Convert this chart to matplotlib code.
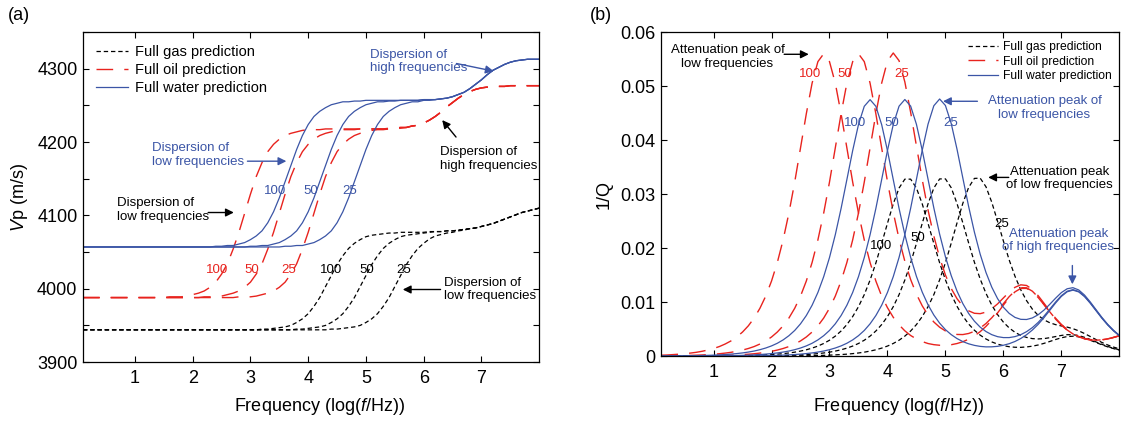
# curvas de dispersion de velocidad (a) y atenuacion 1/Q (b) para gas, petroleo y agua
import numpy as np
import matplotlib
matplotlib.use('Agg')
import matplotlib.pyplot as plt
from matplotlib.ticker import MultipleLocator, FuncFormatter

plt.rcParams['font.family'] = ['Liberation Sans', 'DejaVu Sans']
plt.rcParams['mathtext.fontset'] = 'custom'
plt.rcParams['mathtext.rm'] = 'Liberation Sans'
plt.rcParams['mathtext.it'] = 'Liberation Sans:italic'

# eje x comun: log(f/Hz) de 0.1 a 8.0 cada 0.1
log_f = np.round(np.arange(1, 81) / 10, 1)

## (a) velocidad Vp (m/s), curvas para 100, 50 y 25
vp_gas_100 = [3944, 3944, 3944, 3944, 3944, 3944, 3944, 3944, 3944, 3944,
              3944, 3944, 3944, 3944, 3944, 3944, 3944, 3944, 3944, 3944,
              3944, 3944, 3944, 3944, 3944, 3944, 3944, 3944, 3944, 3944,
              3944, 3945, 3945, 3946, 3947, 3948, 3950, 3954, 3959, 3966,
              3976, 3988, 4003, 4018, 4033, 4045, 4055, 4062, 4067, 4071,
              4073, 4074, 4075, 4076, 4076, 4077, 4077, 4077, 4077, 4077,
              4078, 4078, 4078, 4079, 4079, 4080, 4081, 4082, 4083, 4085,
              4087, 4089, 4092, 4095, 4098, 4101, 4104, 4106, 4108, 4110]
vp_gas_50 = [3944, 3944, 3944, 3944, 3944, 3944, 3944, 3944, 3944, 3944,
             3944, 3944, 3944, 3944, 3944, 3944, 3944, 3944, 3944, 3944,
             3944, 3944, 3944, 3944, 3944, 3944, 3944, 3944, 3944, 3944,
             3944, 3944, 3944, 3944, 3944, 3944, 3944, 3945, 3945, 3946,
             3947, 3948, 3950, 3954, 3959, 3966, 3976, 3988, 4003, 4018,
             4033, 4045, 4055, 4062, 4067, 4071, 4073, 4074, 4075, 4076,
             4077, 4078, 4078, 4079, 4079, 4080, 4081, 4082, 4083, 4085,
             4087, 4089, 4092, 4095, 4098, 4101, 4104, 4106, 4108, 4110]
vp_gas_25 = [3944, 3944, 3944, 3944, 3944, 3944, 3944, 3944, 3944, 3944,
             3944, 3944, 3944, 3944, 3944, 3944, 3944, 3944, 3944, 3944,
             3944, 3944, 3944, 3944, 3944, 3944, 3944, 3944, 3944, 3944,
             3944, 3944, 3944, 3944, 3944, 3944, 3944, 3944, 3944, 3944,
             3944, 3944, 3944, 3945, 3945, 3946, 3947, 3948, 3950, 3954,
             3959, 3966, 3976, 3988, 4003, 4018, 4033, 4045, 4055, 4062,
             4068, 4072, 4074, 4076, 4077, 4079, 4080, 4082, 4083, 4085,
             4087, 4089, 4092, 4095, 4098, 4101, 4104, 4106, 4108, 4110]

vp_oil_100 = [3988, 3988, 3988, 3988, 3988, 3988, 3988, 3988, 3988, 3988,
              3988, 3988, 3988, 3988, 3988, 3989, 3989, 3989, 3990, 3992,
              3994, 3997, 4002, 4009, 4020, 4034, 4054, 4077, 4103, 4129,
              4153, 4172, 4187, 4197, 4204, 4209, 4212, 4214, 4216, 4217,
              4217, 4217, 4218, 4218, 4218, 4218, 4218, 4218, 4218, 4218,
              4218, 4218, 4218, 4219, 4219, 4220, 4220, 4222, 4223, 4226,
              4230, 4235, 4241, 4248, 4254, 4260, 4265, 4269, 4272, 4274,
              4275, 4276, 4276, 4276, 4277, 4277, 4277, 4277, 4277, 4277]
vp_oil_50 = [3988, 3988, 3988, 3988, 3988, 3988, 3988, 3988, 3988, 3988,
             3988, 3988, 3988, 3988, 3988, 3988, 3988, 3988, 3988, 3988,
             3988, 3989, 3989, 3989, 3990, 3992, 3994, 3997, 4002, 4009,
             4020, 4034, 4054, 4077, 4103, 4129, 4153, 4172, 4187, 4197,
             4204, 4209, 4212, 4214, 4216, 4217, 4217, 4217, 4218, 4218,
             4218, 4218, 4218, 4218, 4219, 4220, 4220, 4222, 4223, 4226,
             4230, 4235, 4241, 4248, 4254, 4260, 4265, 4269, 4272, 4274,
             4275, 4276, 4276, 4276, 4277, 4277, 4277, 4277, 4277, 4277]
vp_oil_25 = [3988, 3988, 3988, 3988, 3988, 3988, 3988, 3988, 3988, 3988,
             3988, 3988, 3988, 3988, 3988, 3988, 3988, 3988, 3988, 3988,
             3988, 3988, 3988, 3988, 3988, 3988, 3988, 3989, 3989, 3989,
             3990, 3992, 3994, 3997, 4002, 4009, 4020, 4034, 4054, 4077,
             4103, 4129, 4153, 4172, 4187, 4197, 4204, 4209, 4212, 4214,
             4216, 4217, 4217, 4218, 4218, 4219, 4220, 4222, 4223, 4226,
             4230, 4235, 4241, 4248, 4254, 4260, 4265, 4269, 4272, 4274,
             4275, 4276, 4276, 4276, 4277, 4277, 4277, 4277, 4277, 4277]

vp_water_100 = [4057, 4057, 4057, 4057, 4057, 4057, 4057, 4057, 4057, 4057,
                4057, 4057, 4057, 4057, 4057, 4057, 4057, 4057, 4057, 4057,
                4057, 4057, 4057, 4058, 4058, 4059, 4059, 4061, 4063, 4067,
                4072, 4079, 4090, 4105, 4124, 4146, 4168, 4190, 4209, 4224,
                4235, 4242, 4247, 4251, 4253, 4255, 4255, 4256, 4256, 4257,
                4257, 4257, 4257, 4257, 4257, 4257, 4257, 4257, 4257, 4258,
                4258, 4258, 4259, 4260, 4262, 4265, 4268, 4273, 4279, 4285,
                4292, 4298, 4302, 4306, 4309, 4311, 4312, 4313, 4313, 4313]
vp_water_50 = [4057, 4057, 4057, 4057, 4057, 4057, 4057, 4057, 4057, 4057,
               4057, 4057, 4057, 4057, 4057, 4057, 4057, 4057, 4057, 4057,
               4057, 4057, 4057, 4057, 4057, 4057, 4057, 4057, 4057, 4058,
               4058, 4059, 4059, 4061, 4063, 4067, 4072, 4079, 4090, 4105,
               4124, 4146, 4168, 4190, 4209, 4224, 4235, 4242, 4247, 4251,
               4253, 4255, 4255, 4256, 4256, 4257, 4257, 4257, 4257, 4258,
               4258, 4258, 4259, 4260, 4262, 4265, 4268, 4273, 4279, 4285,
               4292, 4298, 4302, 4306, 4309, 4311, 4312, 4313, 4313, 4313]
vp_water_25 = [4057, 4057, 4057, 4057, 4057, 4057, 4057, 4057, 4057, 4057,
               4057, 4057, 4057, 4057, 4057, 4057, 4057, 4057, 4057, 4057,
               4057, 4057, 4057, 4057, 4057, 4057, 4057, 4057, 4057, 4057,
               4057, 4057, 4057, 4057, 4057, 4058, 4058, 4059, 4059, 4061,
               4063, 4067, 4072, 4079, 4090, 4105, 4124, 4146, 4168, 4190,
               4209, 4224, 4235, 4242, 4247, 4251, 4253, 4255, 4255, 4257,
               4257, 4258, 4259, 4260, 4262, 4265, 4268, 4273, 4279, 4285,
               4292, 4298, 4302, 4306, 4309, 4311, 4312, 4313, 4313, 4313]

## (b) atenuacion 1/Q
q_gas_100 = [0.00001, 0.00001, 0.00001, 0.00001, 0.00001, 0.00001, 0.00001, 0.00002, 0.00002, 0.00003,
             0.00004, 0.00005, 0.00006, 0.00008, 0.00009, 0.00012, 0.00015, 0.00019, 0.00024, 0.00030,
             0.00037, 0.00047, 0.00059, 0.00074, 0.00094, 0.00118, 0.00149, 0.00187, 0.00235, 0.00295,
             0.00371, 0.00466, 0.00585, 0.00733, 0.00916, 0.01139, 0.01409, 0.01725, 0.02087, 0.02460,
             0.02820, 0.03113, 0.03278, 0.03278, 0.03113, 0.02820, 0.02460, 0.02087, 0.01729, 0.01414,
             0.01145, 0.00923, 0.00742, 0.00596, 0.00480, 0.00389, 0.00318, 0.00264, 0.00223, 0.00194,
             0.00175, 0.00165, 0.00163, 0.00171, 0.00185, 0.00207, 0.00237, 0.00272, 0.00308, 0.00340,
             0.00363, 0.00369, 0.00359, 0.00331, 0.00294, 0.00252, 0.00210, 0.00172, 0.00140, 0.00113]
q_gas_50 = [0.00000, 0.00000, 0.00000, 0.00000, 0.00000, 0.00001, 0.00001, 0.00001, 0.00001, 0.00001,
            0.00001, 0.00001, 0.00001, 0.00002, 0.00002, 0.00003, 0.00004, 0.00005, 0.00006, 0.00008,
            0.00009, 0.00012, 0.00015, 0.00019, 0.00024, 0.00030, 0.00037, 0.00047, 0.00059, 0.00074,
            0.00094, 0.00118, 0.00149, 0.00187, 0.00235, 0.00295, 0.00371, 0.00466, 0.00585, 0.00733,
            0.00916, 0.01139, 0.01409, 0.01725, 0.02087, 0.02460, 0.02820, 0.03113, 0.03282, 0.03283,
            0.03119, 0.02827, 0.02469, 0.02098, 0.01739, 0.01427, 0.01162, 0.00945, 0.00769, 0.00630,
            0.00523, 0.00442, 0.00384, 0.00347, 0.00325, 0.00319, 0.00325, 0.00342, 0.00363, 0.00384,
            0.00398, 0.00397, 0.00381, 0.00349, 0.00308, 0.00263, 0.00219, 0.00179, 0.00146, 0.00118]
q_gas_25 = [0.00000, 0.00000, 0.00000, 0.00000, 0.00000, 0.00000, 0.00000, 0.00000, 0.00000, 0.00000,
            0.00000, 0.00000, 0.00000, 0.00000, 0.00000, 0.00000, 0.00000, 0.00001, 0.00001, 0.00002,
            0.00002, 0.00003, 0.00004, 0.00005, 0.00006, 0.00008, 0.00009, 0.00012, 0.00015, 0.00019,
            0.00024, 0.00030, 0.00037, 0.00047, 0.00059, 0.00074, 0.00094, 0.00118, 0.00149, 0.00187,
            0.00235, 0.00295, 0.00371, 0.00466, 0.00585, 0.00733, 0.00916, 0.01139, 0.01413, 0.01730,
            0.02093, 0.02467, 0.02829, 0.03124, 0.03292, 0.03296, 0.03136, 0.02849, 0.02496, 0.02132,
            0.01782, 0.01480, 0.01228, 0.01028, 0.00871, 0.00755, 0.00673, 0.00619, 0.00584, 0.00560,
            0.00538, 0.00509, 0.00469, 0.00419, 0.00363, 0.00307, 0.00254, 0.00207, 0.00168, 0.00136]

q_oil_100 = [0.00018, 0.00022, 0.00029, 0.00036, 0.00045, 0.00057, 0.00071, 0.00090, 0.00113, 0.00142,
             0.00178, 0.00225, 0.00282, 0.00355, 0.00447, 0.00562, 0.00706, 0.00887, 0.01112, 0.01391,
             0.01735, 0.02153, 0.02650, 0.03224, 0.03856, 0.04488, 0.05056, 0.05454, 0.05600, 0.05454,
             0.05056, 0.04488, 0.03856, 0.03224, 0.02650, 0.02153, 0.01735, 0.01391, 0.01112, 0.00898,
             0.00720, 0.00580, 0.00469, 0.00383, 0.00318, 0.00270, 0.00234, 0.00213, 0.00202, 0.00202,
             0.00212, 0.00234, 0.00267, 0.00314, 0.00376, 0.00454, 0.00552, 0.00668, 0.00801, 0.00945,
             0.01080, 0.01191, 0.01254, 0.01255, 0.01195, 0.01086, 0.00954, 0.00816, 0.00687, 0.00575,
             0.00483, 0.00411, 0.00358, 0.00321, 0.00301, 0.00295, 0.00301, 0.00319, 0.00346, 0.00377]
q_oil_50 = [0.00004, 0.00006, 0.00007, 0.00009, 0.00011, 0.00014, 0.00018, 0.00022, 0.00029, 0.00036,
            0.00045, 0.00057, 0.00071, 0.00090, 0.00113, 0.00142, 0.00178, 0.00225, 0.00282, 0.00355,
            0.00447, 0.00562, 0.00706, 0.00887, 0.01112, 0.01391, 0.01735, 0.02153, 0.02650, 0.03224,
            0.03856, 0.04488, 0.05056, 0.05454, 0.05600, 0.05454, 0.05056, 0.04488, 0.03856, 0.03235,
            0.02664, 0.02171, 0.01757, 0.01419, 0.01148, 0.00932, 0.00762, 0.00633, 0.00536, 0.00467,
            0.00423, 0.00402, 0.00400, 0.00420, 0.00460, 0.00522, 0.00605, 0.00711, 0.00835, 0.00972,
            0.01102, 0.01207, 0.01268, 0.01266, 0.01203, 0.01093, 0.00959, 0.00821, 0.00690, 0.00577,
            0.00485, 0.00412, 0.00359, 0.00322, 0.00302, 0.00296, 0.00302, 0.00320, 0.00347, 0.00378]
q_oil_25 = [0.00001, 0.00001, 0.00002, 0.00002, 0.00003, 0.00003, 0.00004, 0.00006, 0.00007, 0.00009,
            0.00011, 0.00014, 0.00018, 0.00022, 0.00029, 0.00036, 0.00045, 0.00057, 0.00071, 0.00090,
            0.00113, 0.00142, 0.00178, 0.00225, 0.00282, 0.00355, 0.00447, 0.00562, 0.00706, 0.00887,
            0.01112, 0.01391, 0.01735, 0.02153, 0.02650, 0.03224, 0.03856, 0.04488, 0.05056, 0.05465,
            0.05614, 0.05472, 0.05078, 0.04516, 0.03892, 0.03269, 0.02706, 0.02224, 0.01824, 0.01503,
            0.01253, 0.01064, 0.00928, 0.00840, 0.00794, 0.00787, 0.00816, 0.00879, 0.00968, 0.01078,
            0.01186, 0.01275, 0.01321, 0.01309, 0.01237, 0.01120, 0.00981, 0.00837, 0.00704, 0.00588,
            0.00493, 0.00419, 0.00364, 0.00327, 0.00305, 0.00298, 0.00304, 0.00321, 0.00348, 0.00378]

q_water_100 = [0.00002, 0.00003, 0.00004, 0.00005, 0.00006, 0.00008, 0.00010, 0.00012, 0.00015, 0.00019,
               0.00024, 0.00030, 0.00038, 0.00048, 0.00060, 0.00076, 0.00095, 0.00120, 0.00151, 0.00190,
               0.00239, 0.00301, 0.00379, 0.00476, 0.00599, 0.00752, 0.00943, 0.01180, 0.01472, 0.01826,
               0.02248, 0.02735, 0.03270, 0.03807, 0.04288, 0.04627, 0.04750, 0.04627, 0.04288, 0.03807,
               0.03270, 0.02737, 0.02251, 0.01830, 0.01477, 0.01186, 0.00951, 0.00762, 0.00611, 0.00491,
               0.00399, 0.00326, 0.00270, 0.00229, 0.00200, 0.00181, 0.00172, 0.00173, 0.00182, 0.00202,
               0.00231, 0.00272, 0.00327, 0.00397, 0.00484, 0.00589, 0.00712, 0.00848, 0.00984, 0.01106,
               0.01192, 0.01223, 0.01190, 0.01103, 0.00980, 0.00841, 0.00703, 0.00578, 0.00470, 0.00379]
q_water_50 = [0.00001, 0.00001, 0.00001, 0.00001, 0.00002, 0.00002, 0.00002, 0.00003, 0.00004, 0.00005,
              0.00006, 0.00008, 0.00010, 0.00012, 0.00015, 0.00019, 0.00024, 0.00030, 0.00038, 0.00048,
              0.00060, 0.00076, 0.00095, 0.00120, 0.00151, 0.00190, 0.00239, 0.00301, 0.00379, 0.00476,
              0.00599, 0.00752, 0.00943, 0.01180, 0.01472, 0.01826, 0.02248, 0.02735, 0.03270, 0.03807,
              0.04288, 0.04629, 0.04753, 0.04631, 0.04293, 0.03813, 0.03278, 0.02745, 0.02260, 0.01841,
              0.01492, 0.01205, 0.00974, 0.00791, 0.00648, 0.00537, 0.00456, 0.00398, 0.00361, 0.00344,
              0.00344, 0.00362, 0.00398, 0.00454, 0.00529, 0.00625, 0.00740, 0.00870, 0.01002, 0.01120,
              0.01203, 0.01232, 0.01198, 0.01109, 0.00984, 0.00845, 0.00706, 0.00580, 0.00471, 0.00380]
q_water_25 = [0.00000, 0.00000, 0.00000, 0.00000, 0.00000, 0.00001, 0.00001, 0.00001, 0.00001, 0.00001,
              0.00002, 0.00002, 0.00002, 0.00003, 0.00004, 0.00005, 0.00006, 0.00008, 0.00010, 0.00012,
              0.00015, 0.00019, 0.00024, 0.00030, 0.00038, 0.00048, 0.00060, 0.00076, 0.00095, 0.00120,
              0.00151, 0.00190, 0.00239, 0.00301, 0.00379, 0.00476, 0.00599, 0.00752, 0.00943, 0.01180,
              0.01472, 0.01828, 0.02251, 0.02739, 0.03275, 0.03813, 0.04296, 0.04637, 0.04762, 0.04642,
              0.04308, 0.03832, 0.03301, 0.02774, 0.02297, 0.01887, 0.01549, 0.01277, 0.01065, 0.00906,
              0.00792, 0.00718, 0.00682, 0.00679, 0.00708, 0.00767, 0.00853, 0.00960, 0.01073, 0.01177,
              0.01248, 0.01268, 0.01226, 0.01131, 0.01002, 0.00859, 0.00717, 0.00589, 0.00479, 0.00386]

# colores y estilos
c_oil = '#e8231e'
c_water = '#3b55a6'
gas_kw = dict(color='black', lw=0.9, dashes=(3.5, 2.3))
oil_kw = dict(color=c_oil, lw=1.0, dashes=(12, 8))
water_kw = dict(color=c_water, lw=0.9)

fig = plt.figure(figsize=(11.21, 4.23), dpi=100)
ax1 = fig.add_axes([0.074, 0.144, 0.407, 0.780])
ax2 = fig.add_axes([0.590, 0.158, 0.4085, 0.766])

def formato_ejes(ax):
    ax.set_xlim(0.1, 8.0)
    ax.set_xticks([1, 2, 3, 4, 5, 6, 7])
    ax.tick_params(which='both', direction='in', top=True, right=True,
                   length=4, width=0.8, labelsize=13)
    ax.tick_params(axis='x', pad=6)
    ax.tick_params(axis='y', pad=4)
    for s in ax.spines.values():
        s.set_linewidth(0.9)
    ax.set_xlabel(r'Frequency (log($f$/Hz))', fontsize=13)

## panel (a)
ax1.plot(log_f, vp_gas_100, label='Full gas prediction', **gas_kw)
ax1.plot(log_f, vp_gas_50, **gas_kw)
ax1.plot(log_f, vp_gas_25, **gas_kw)
ax1.plot(log_f, vp_oil_100, label='Full oil prediction', **oil_kw)
ax1.plot(log_f, vp_oil_50, **oil_kw)
ax1.plot(log_f, vp_oil_25, **oil_kw)
ax1.plot(log_f, vp_water_100, label='Full water prediction', **water_kw)
ax1.plot(log_f, vp_water_50, **water_kw)
ax1.plot(log_f, vp_water_25, **water_kw)

formato_ejes(ax1)
ax1.set_ylim(3900, 4350)
ax1.set_yticks([3900, 4000, 4100, 4200, 4300])
ax1.yaxis.set_minor_locator(MultipleLocator(50))
ax1.set_ylabel(r'$V$p (m/s)', fontsize=13)
ax1.yaxis.set_label_coords(-0.116, 0.5)
ax1.xaxis.set_label_coords(0.518, -0.103)

ax1.legend(loc='upper left', bbox_to_anchor=(0.028, 0.962), frameon=False,
           fontsize=10.5, handlelength=2.2, handletextpad=0.5,
           labelspacing=0.3, borderpad=0, borderaxespad=0)

# textos y flechas
kw_txt = dict(fontsize=9.5, linespacing=1.2, va='center', ha='left')
flecha_b = dict(arrowstyle='-|>', color=c_water, lw=1.0, mutation_scale=12)
flecha_k = dict(arrowstyle='-|>', color='black', lw=1.0, mutation_scale=12)

ax1.text(1.29, 4182, 'Dispersion of\nlow frequencies', color=c_water, **kw_txt)
ax1.annotate('', xy=(3.67, 4174), xytext=(2.90, 4174), arrowprops=flecha_b)
ax1.text(0.69, 4107, 'Dispersion of\nlow frequencies', color='black', **kw_txt)
ax1.annotate('', xy=(2.76, 4104), xytext=(2.22, 4104), arrowprops=flecha_k)
ax1.text(5.07, 4310, 'Dispersion of\nhigh frequencies', color=c_water, **kw_txt)
ax1.annotate('', xy=(7.26, 4296), xytext=(6.52, 4308), arrowprops=flecha_b)
ax1.text(6.28, 4177, 'Dispersion of\nhigh frequencies', color='black', **kw_txt)
ax1.annotate('', xy=(6.29, 4233), xytext=(6.59, 4204), arrowprops=flecha_k)
ax1.text(6.36, 3999, 'Dispersion of\nlow frequencies', color='black', **kw_txt)
ax1.annotate('', xy=(5.59, 3999), xytext=(6.34, 3999), arrowprops=flecha_k)

kw_num = dict(fontsize=9.5, ha='center', va='center')
for xx, t in zip([3.42, 4.05, 4.71], ['100', '50', '25']):
    ax1.text(xx, 4134, t, color=c_water, **kw_num)
for xx, t in zip([2.43, 3.02, 3.66], ['100', '50', '25']):
    ax1.text(xx, 4026, t, color=c_oil, **kw_num)
for xx, t in zip([4.40, 5.02, 5.66], ['100', '50', '25']):
    ax1.text(xx, 4026, t, color='black', **kw_num)

## panel (b)
ax2.plot(log_f, q_gas_100, label='Full gas prediction', **gas_kw)
ax2.plot(log_f, q_gas_50, **gas_kw)
ax2.plot(log_f, q_gas_25, **gas_kw)
ax2.plot(log_f, q_oil_100, label='Full oil prediction', **oil_kw)
ax2.plot(log_f, q_oil_50, **oil_kw)
ax2.plot(log_f, q_oil_25, **oil_kw)
ax2.plot(log_f, q_water_100, label='Full water prediction', **water_kw)
ax2.plot(log_f, q_water_50, **water_kw)
ax2.plot(log_f, q_water_25, **water_kw)

formato_ejes(ax2)
ax2.set_ylim(0, 0.06)
ax2.set_yticks([0, 0.01, 0.02, 0.03, 0.04, 0.05, 0.06])
ax2.yaxis.set_major_formatter(FuncFormatter(lambda v, p: '0' if v == 0 else '%.2f' % v))
ax2.set_ylabel('1/Q', fontsize=13)
ax2.yaxis.set_label_coords(-0.107, 0.5)
ax2.xaxis.set_label_coords(0.517, -0.123)

ax2.legend(loc='upper left', bbox_to_anchor=(0.670, 0.972), frameon=False,
           fontsize=8.7, handlelength=2.5, handletextpad=0.4,
           labelspacing=0.2, borderpad=0, borderaxespad=0)

kw_c = dict(fontsize=9.5, linespacing=1.2, va='center', ha='center', multialignment='center')
ax2.text(1.24, 0.0554, 'Attenuation peak of\nlow frequencies', color='black', **kw_c)
ax2.annotate('', xy=(2.69, 0.0559), xytext=(2.17, 0.0559), arrowprops=flecha_k)
ax2.text(6.71, 0.0459, 'Attenuation peak of\nlow frequencies', color=c_water, **kw_c)
ax2.annotate('', xy=(4.91, 0.0472), xytext=(5.60, 0.0472), arrowprops=flecha_b)
ax2.text(6.97, 0.0329, 'Attenuation peak\nof low frequencies', color='black', **kw_c)
ax2.annotate('', xy=(5.69, 0.0331), xytext=(6.14, 0.0331), arrowprops=flecha_k)
ax2.text(6.95, 0.0214, 'Attenuation peak\nof high frequencies', color=c_water, **kw_c)
ax2.annotate('', xy=(7.19, 0.0128), xytext=(7.19, 0.0173), arrowprops=flecha_b)

for xx, t in zip([2.67, 3.26, 4.24], ['100', '50', '25']):
    ax2.text(xx, 0.0523, t, color=c_oil, **kw_num)
for xx, t in zip([3.45, 4.07, 5.09], ['100', '50', '25']):
    ax2.text(xx, 0.0431, t, color=c_water, **kw_num)
for xx, yy, t in zip([3.89, 4.53, 5.97], [0.0204, 0.0219, 0.0245], ['100', '50', '25']):
    ax2.text(xx, yy, t, color='black', **kw_num)

fig.text(0.017, 0.963, '(a)', fontsize=13, ha='center', va='center')
fig.text(0.536, 0.963, '(b)', fontsize=13, ha='center', va='center')

plt.savefig('out.png', dpi=100)
